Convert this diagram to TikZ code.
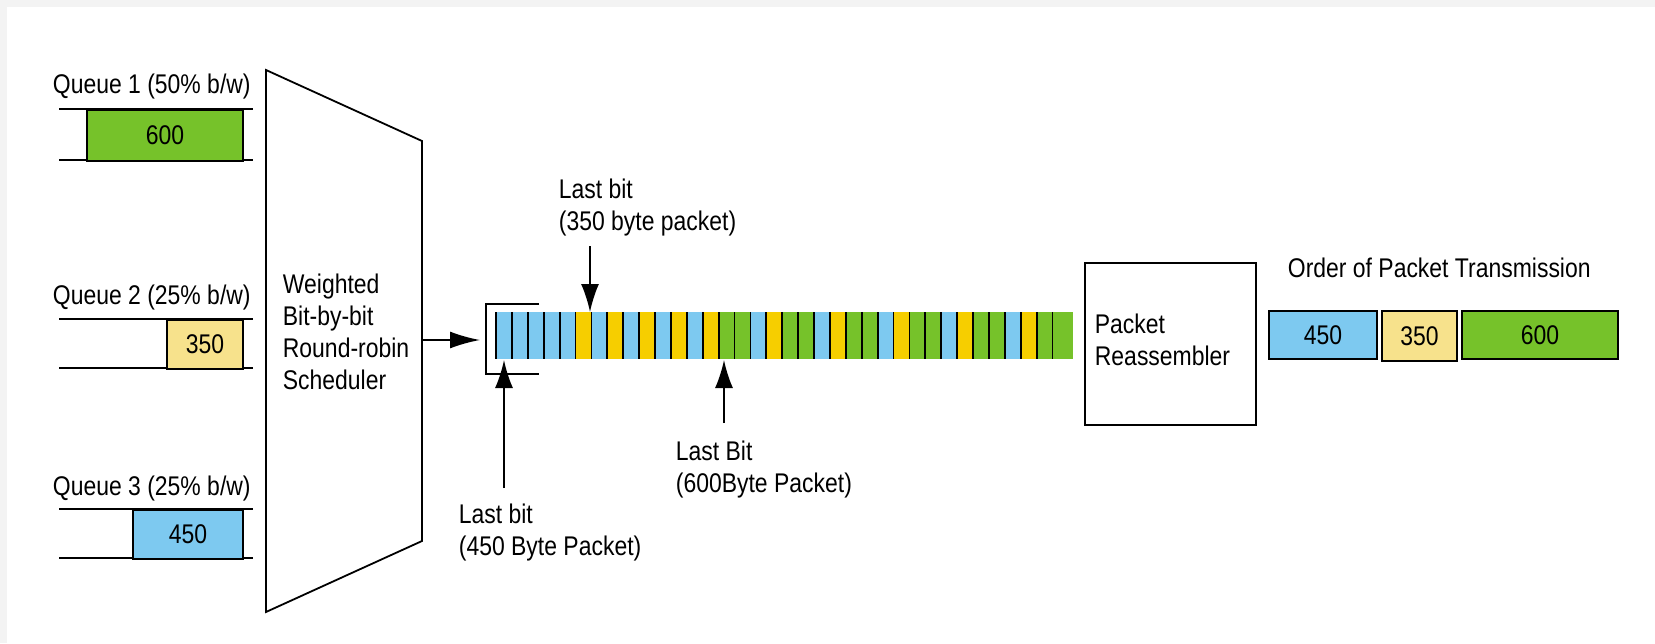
\documentclass[tikz,border=0pt]{standalone}
\usepackage{fontspec}
\setmainfont{Liberation Sans}[FakeStretch=0.85]
\usetikzlibrary{arrows.meta}
\definecolor{cG}{RGB}{118,194,42}
\definecolor{cB}{RGB}{125,201,240}
\definecolor{cY}{RGB}{246,206,0}
\definecolor{cP}{RGB}{247,226,140}
\definecolor{frame}{RGB}{243,243,243}
\begin{document}
\begin{tikzpicture}[x=1pt,y=-1pt,line width=1.8pt,
  lbl/.style={inner sep=0pt,anchor=base west,font=\fontsize{27}{32}\selectfont},
  pkt/.style={draw=black,line width=1.8pt,inner sep=0pt,anchor=north west,font=\fontsize{27}{32}\selectfont},
  arr/.style={-{Latex[length=28pt,width=18pt]},line width=1.8pt},
  sep/.style={line width=1.8pt,black}]
\useasboundingbox (0,0) rectangle (1655,643);
\fill[frame] (0,0) rectangle (1655,643);
\fill[white] (7,7) rectangle (1655,643);
% queues
\node[lbl] (q1l) at (52,93) {Queue 1 (50\% b/w)};
\draw (59,109) -- (253,109) (59,160) -- (253,160);
\node[pkt,fill=cG,minimum width=156pt,minimum height=51pt] (q1) at (86,109) {600};
\node[lbl] (q2l) at (52,304) {Queue 2 (25\% b/w)};
\draw (59,319) -- (253,319) (59,368) -- (253,368);
\node[pkt,fill=cP,minimum width=76pt,minimum height=49pt] (q2) at (166,319) {350};
\node[lbl] (q3l) at (52,495) {Queue 3 (25\% b/w)};
\draw (59,509) -- (253,509) (59,558) -- (253,558);
\node[pkt,fill=cB,minimum width=110pt,minimum height=49pt] (q3) at (132,509) {450};
% scheduler
\draw (266,70) -- (422,141) -- (422,541) -- (266,612) -- cycle;
\node[lbl] (s1) at (282,293) {Weighted};
\node[lbl] (s2) at (282,325) {Bit-by-bit};
\node[lbl] (s3) at (282,357) {Round-robin};
\node[lbl] (s4) at (282,389) {Scheduler};
\coordinate (schedout) at (422,340);
\coordinate (streamin) at (480,340);
\draw[arr,-{Latex[length=30pt,width=17pt]}] (schedout) -- (streamin);
% stream
\fill[cG] (1060,312) rectangle (1073,359);
\foreach \c [count=\i from 0] in {cB,cB,cB,cB,cB,cY,cB,cY,cB,cY,cB,cY,cB,cY,cG,cG,cB,cY,cG,cG,cB,cY,cG,cG,cB,cY,cG,cG,cB,cY,cG,cG,cB,cY,cG,cG}{
  \fill[\c] (496+15.9*\i,312) rectangle (496+15.9*\i+15.9,359);
  \draw[sep] (496+15.9*\i,312) -- (496+15.9*\i,359);
}
\draw[line width=1.6pt] (539,304) -- (486,304) -- (486,374) -- (539,374);
% annotations
\node[lbl] (t350a) at (558,198) {Last bit};
\node[lbl] (t350b) at (558,230) {(350 byte packet)};
\coordinate (a350) at (590,246);
\coordinate (s350) at (590,312);
\draw[arr] (a350) -- (s350);
\coordinate (a450) at (504,488);
\coordinate (s450) at (504,360);
\draw[arr] (a450) -- (s450);
\node[lbl] (t450a) at (458,523) {Last bit};
\node[lbl] (t450b) at (458,555) {(450 Byte Packet)};
\coordinate (a600) at (724,423);
\coordinate (s600) at (724,360);
\draw[arr] (a600) -- (s600);
\node[lbl] (t600a) at (675,460) {Last Bit};
\node[lbl] (t600b) at (675,492) {(600Byte Packet)};
% reassembler
\node[draw,line width=1.8pt,minimum width=171pt,minimum height=162pt,anchor=north west,inner sep=0pt] (reasm) at (1084,262) {};
\node[lbl] (r1) at (1094,333) {Packet};
\node[lbl] (r2) at (1094,365) {Reassembler};
% output order
\node[lbl] (ord) at (1287,277) {Order of Packet Transmission};
\node[pkt,fill=cB,minimum width=108pt,minimum height=48pt] (o450) at (1268,310) {450};
\node[pkt,fill=cP,minimum width=75pt,minimum height=50pt] (o350) at (1381,310) {350};
\node[pkt,fill=cG,minimum width=156pt,minimum height=48pt] (o600) at (1461,310) {600};
\end{tikzpicture}
\end{document}
